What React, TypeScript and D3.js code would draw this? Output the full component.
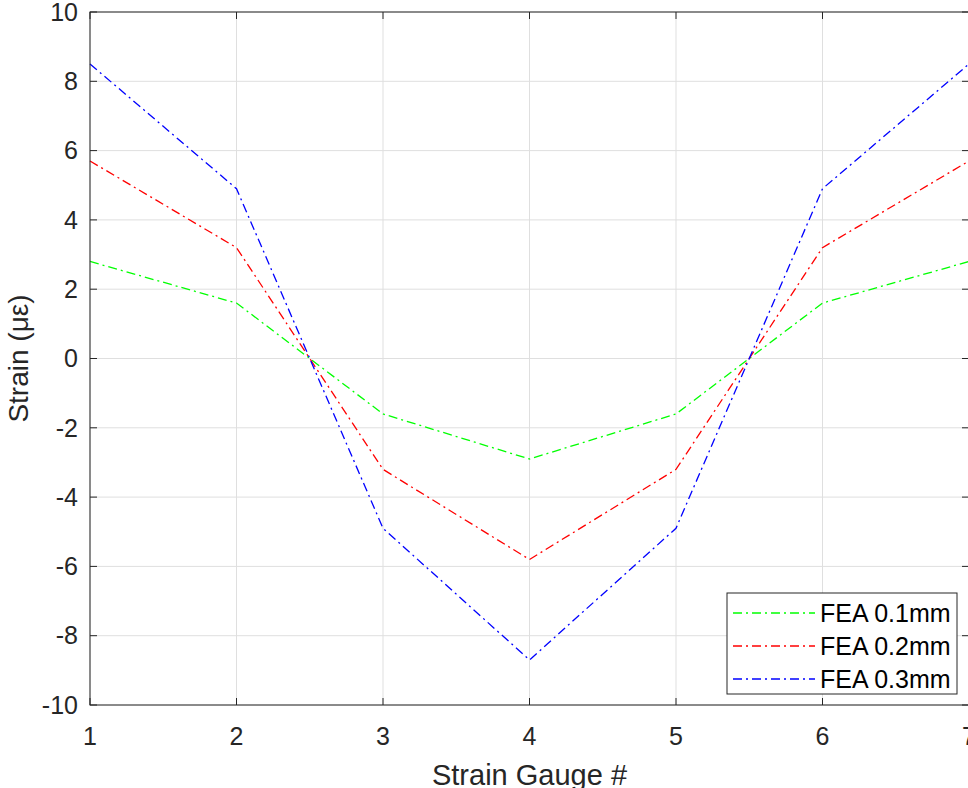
import { useRef, useEffect } from "react";
import * as d3 from "d3";

const gauges = [1, 2, 3, 4, 5, 6, 7];
const fea01 = [2.8, 1.6, -1.6, -2.9, -1.6, 1.6, 2.8];
const fea02 = [5.7, 3.2, -3.2, -5.8, -3.2, 3.2, 5.7];
const fea03 = [8.5, 4.9, -4.9, -8.7, -4.9, 4.9, 8.5];
const seriesNames = ["FEA 0.1mm", "FEA 0.2mm", "FEA 0.3mm"];
const seriesColors = ["#00ff00", "#ff0000", "#0000ff"];
const yTicks = [-10, -8, -6, -4, -2, 0, 2, 4, 6, 8, 10];

export default function App() {
  const ref = useRef<SVGSVGElement>(null);

  useEffect(() => {
    const svg = d3.select(ref.current);
    svg.selectAll("*").remove();

    const width = 968;
    const height = 788;
    const margin = { top: 12, right: -1, bottom: 83, left: 90 };
    const innerWidth = width - margin.left - margin.right;
    const innerHeight = height - margin.top - margin.bottom;
    const font = "Arial, 'Liberation Sans', Helvetica, sans-serif";
    const axisColor = "#262626";

    const x = d3.scaleLinear().domain([1, 7]).range([0, innerWidth]);
    const y = d3.scaleLinear().domain([-10, 10]).range([innerHeight, 0]);

    const g = svg
      .append("g")
      .attr("transform", `translate(${margin.left},${margin.top})`);

    // --- background ---
    g.append("rect")
      .attr("width", innerWidth)
      .attr("height", innerHeight)
      .attr("fill", "#fff");

    // --- grid ---
    g.append("g")
      .selectAll("line")
      .data(gauges)
      .join("line")
      .attr("x1", (d) => x(d))
      .attr("x2", (d) => x(d))
      .attr("y1", 0)
      .attr("y2", innerHeight)
      .attr("stroke", "#dfdfdf")
      .attr("stroke-width", 1);
    g.append("g")
      .selectAll("line")
      .data(yTicks)
      .join("line")
      .attr("x1", 0)
      .attr("x2", innerWidth)
      .attr("y1", (d) => y(d))
      .attr("y2", (d) => y(d))
      .attr("stroke", "#dfdfdf")
      .attr("stroke-width", 1);

    // --- lines ---
    const allSeries = [fea01, fea02, fea03];
    const line = d3
      .line<number>()
      .x((_, i) => x(gauges[i]))
      .y((d) => y(d));
    allSeries.forEach((vals, i) => {
      g.append("path")
        .attr("d", line(vals))
        .attr("fill", "none")
        .attr("stroke", seriesColors[i])
        .attr("stroke-width", 1.3)
        .attr("stroke-dasharray", "9,4,2,4");
    });

    // --- axes (box, ticks in) ---
    const tickLen = 7;
    const axG = g.append("g").attr("stroke", axisColor).attr("stroke-width", 1);
    axG.append("rect")
      .attr("width", innerWidth)
      .attr("height", innerHeight)
      .attr("fill", "none");
    gauges.forEach((d) => {
      axG.append("line").attr("x1", x(d)).attr("x2", x(d)).attr("y1", innerHeight).attr("y2", innerHeight - tickLen);
      axG.append("line").attr("x1", x(d)).attr("x2", x(d)).attr("y1", 0).attr("y2", tickLen);
    });
    yTicks.forEach((d) => {
      axG.append("line").attr("x1", 0).attr("x2", tickLen).attr("y1", y(d)).attr("y2", y(d));
      axG.append("line").attr("x1", innerWidth).attr("x2", innerWidth - tickLen).attr("y1", y(d)).attr("y2", y(d));
    });

    // tick labels
    g.append("g")
      .selectAll("text")
      .data(gauges)
      .join("text")
      .attr("x", (d) => x(d))
      .attr("y", innerHeight + 31)
      .attr("dy", "0.35em")
      .attr("text-anchor", "middle")
      .attr("fill", axisColor)
      .style("font-family", font)
      .style("font-size", "25px")
      .text((d) => d);
    g.append("g")
      .selectAll("text")
      .data(yTicks)
      .join("text")
      .attr("x", -12)
      .attr("y", (d) => y(d))
      .attr("dy", "0.35em")
      .attr("text-anchor", "end")
      .attr("fill", axisColor)
      .style("font-family", font)
      .style("font-size", "25px")
      .text((d) => d);

    // axis labels
    svg.append("text")
      .attr("x", margin.left + x(4))
      .attr("y", 775)
      .attr("dy", "0.35em")
      .attr("text-anchor", "middle")
      .attr("fill", axisColor)
      .style("font-family", font)
      .style("font-size", "29px")
      .text("Strain Gauge #");
    svg.append("text")
      .attr("transform", `translate(18,${margin.top + y(0)}) rotate(-90)`)
      .attr("dy", "0.35em")
      .attr("text-anchor", "middle")
      .attr("fill", axisColor)
      .style("font-family", font)
      .style("font-size", "28px")
      .text("Strain (με)");

    // --- legend ---
    const legend = svg.append("g").attr("transform", "translate(727,593)");
    legend.append("rect")
      .attr("width", 230)
      .attr("height", 101)
      .attr("fill", "#fff")
      .attr("stroke", axisColor)
      .attr("stroke-width", 1);
    seriesNames.forEach((name, i) => {
      const cy = 20 + i * 33;
      legend.append("line")
        .attr("x1", 6)
        .attr("x2", 88)
        .attr("y1", cy)
        .attr("y2", cy)
        .attr("stroke", seriesColors[i])
        .attr("stroke-width", 1.3)
        .attr("stroke-dasharray", "9,4,2,4");
      legend.append("text")
        .attr("x", 93)
        .attr("y", cy)
        .attr("dy", "0.35em")
        .attr("fill", "#000")
        .style("font-family", font)
        .style("font-size", "25px")
        .text(name);
    });
  }, []);

  return (
    <svg
      ref={ref}
      width={968}
      height={788}
      style={{ position: "absolute", left: 0, top: 0, background: "#fff" }}
    ></svg>
  );
}
